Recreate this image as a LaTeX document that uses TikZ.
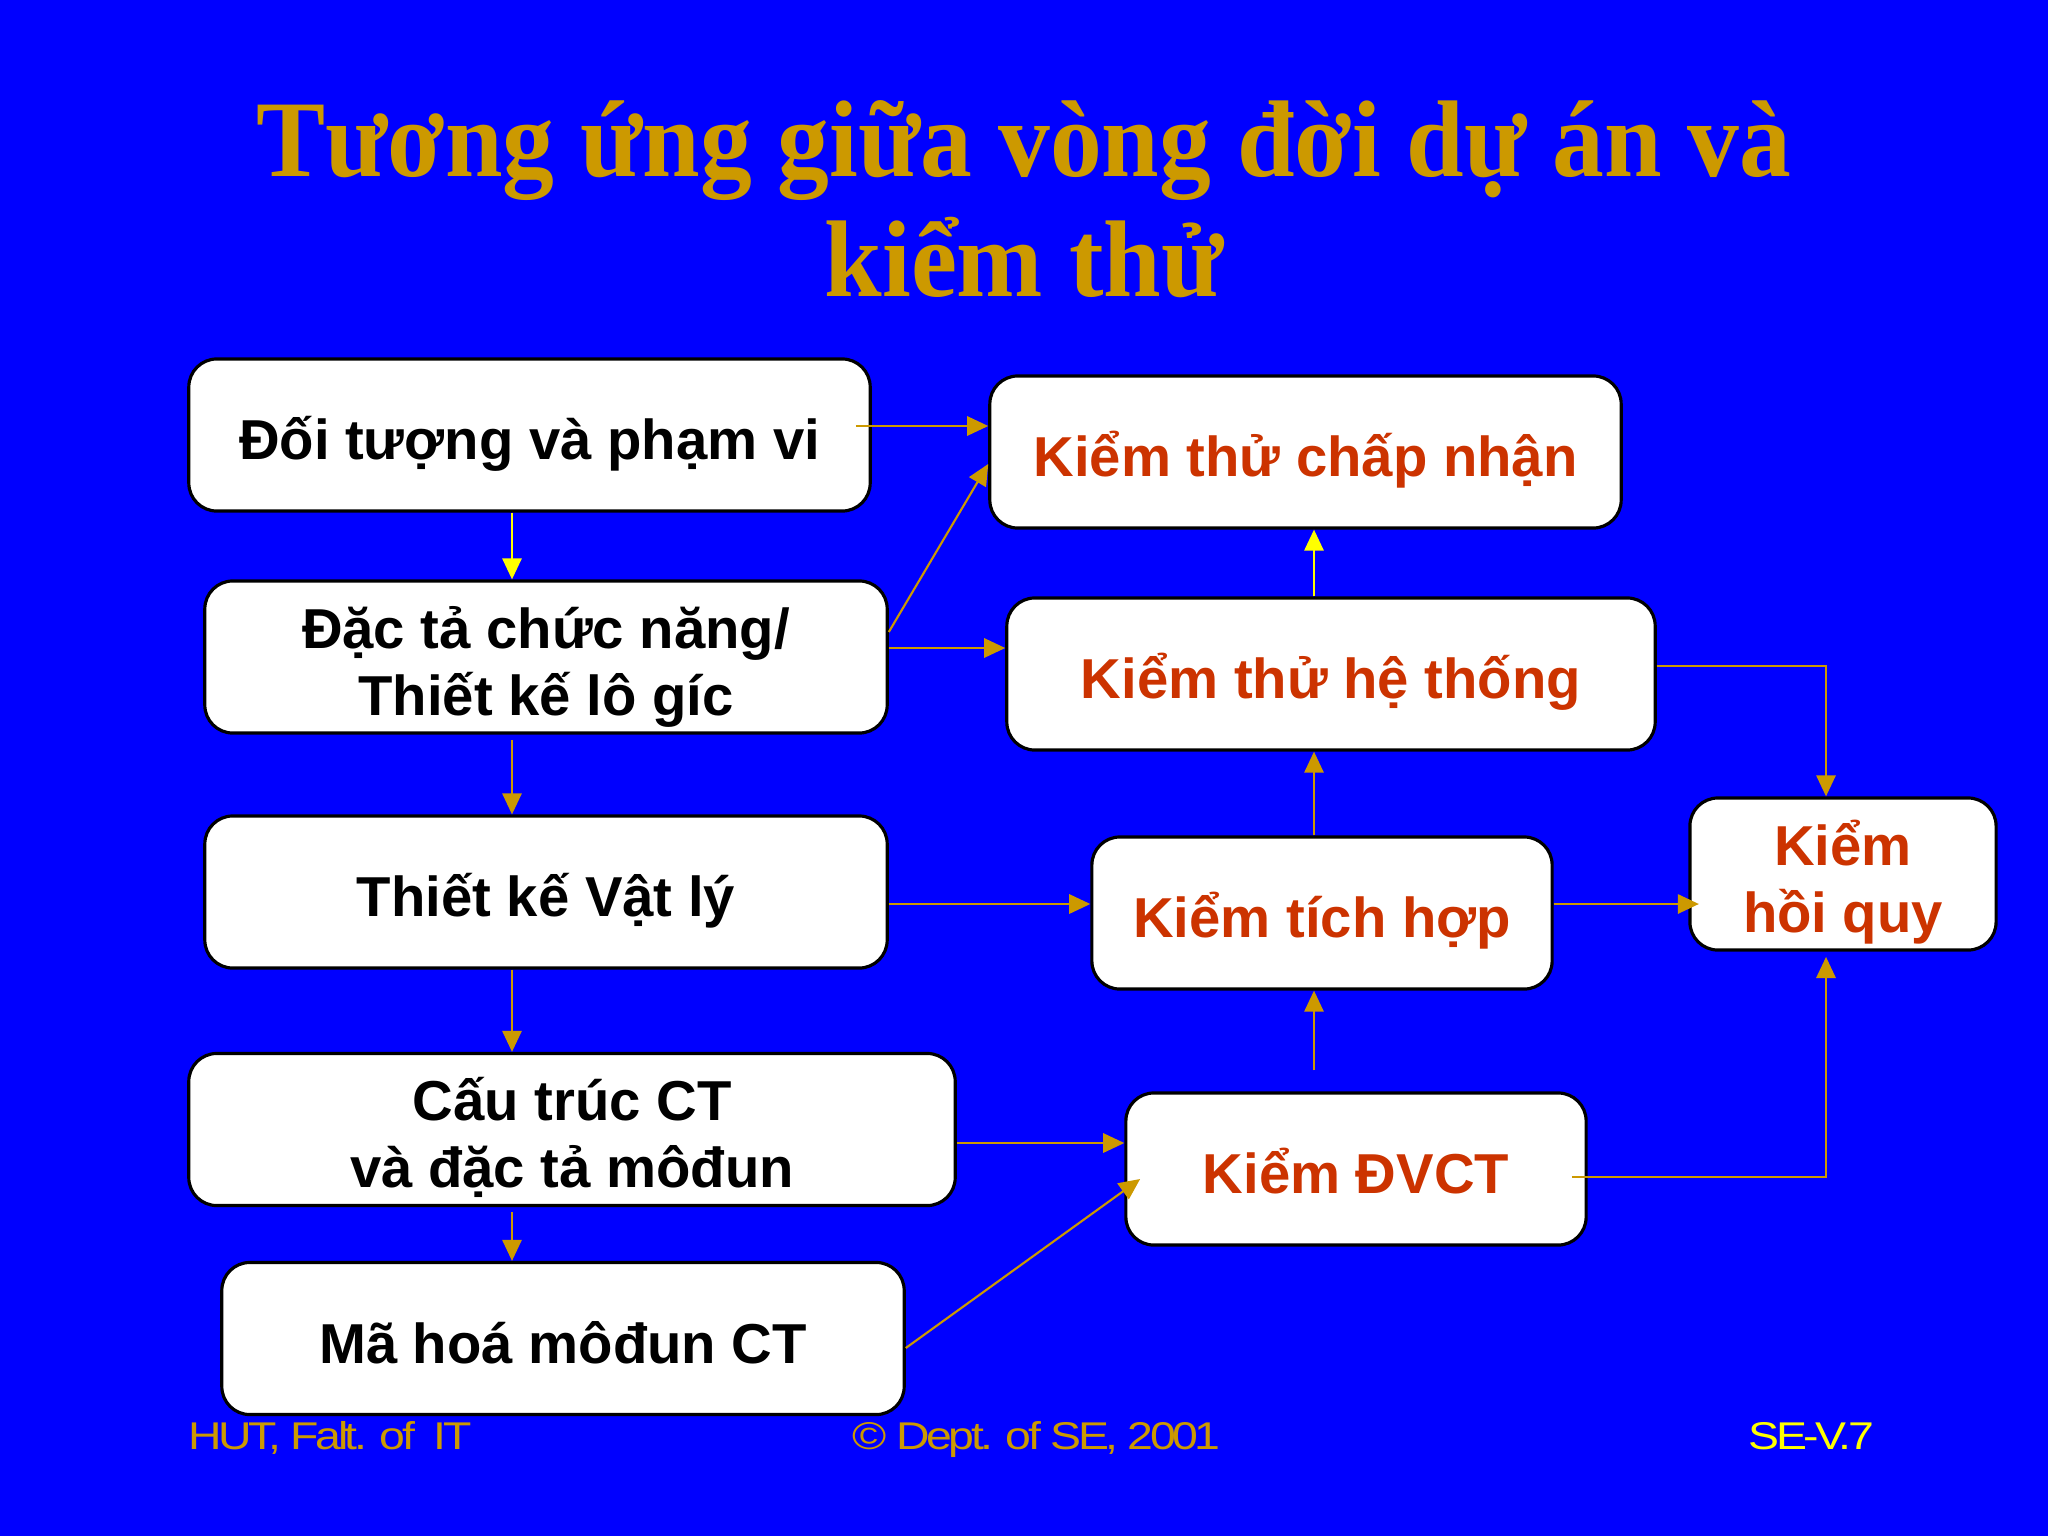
\documentclass[tikz,border=0pt]{standalone}
\usepackage{fontspec}
\setmainfont{Liberation Serif}
\newfontfamily\titlefont[FakeStretch=0.95]{Liberation Serif}
\newfontfamily\boxfont{Liberation Sans}
\newfontfamily\footfont[FakeStretch=1.2,LetterSpace=-9]{Liberation Sans}
\usetikzlibrary{arrows.meta,calc}
\definecolor{bg}{RGB}{0,0,255}
\definecolor{gold}{RGB}{204,153,0}
\definecolor{tred}{RGB}{204,51,0}
\definecolor{yel}{RGB}{255,255,0}
\newcommand\bxtop{\rule{0pt}{19pt}}
\newcommand\bxbot{\rule[-5pt]{0pt}{5pt}}
\begin{document}
\begin{tikzpicture}[x=0.01cm,y=-0.01cm,
  box/.style={draw=black, line width=0.9pt, fill=white, rounded corners=0.28cm,
    align=center, font=\boxfont\bfseries\fontsize{16}{19}\selectfont, inner sep=0pt,
    minimum height=1.52cm},
  lbox/.style={box, text=black},
  rbox/.style={box, text=tred},
  conn/.style={draw=gold, line width=0.6pt, -{Triangle[length=6pt,width=5.5pt]}},
  yconn/.style={conn, draw=yel},
  ttl/.style={text=gold, font=\titlefont\bfseries\fontsize{31}{34}\selectfont, inner sep=0pt, anchor=base},
  foot/.style={font=\footfont\fontsize{11}{13}\selectfont, inner sep=0pt, anchor=base west}
]
\fill[bg] (0,0) rectangle (2048,1536);
\useasboundingbox (0,0) rectangle (2048,1536);

% title
\node[ttl] (t1) at (1024,176) {Tương ứng giữa vòng đời dự án và};
\node[ttl] (t2) at (1024,296) {kiểm thử};

% left column
\node[lbox, minimum width=6.81cm] (b1) at (529.5,435) {\bxtop Đối tượng và phạm vi\bxbot};
\node[lbox, minimum width=6.82cm] (b2) at (546,657) {\bxtop Đặc tả chức năng/\\Thiết kế lô gíc\bxbot};
\node[lbox, minimum width=6.82cm] (b3) at (546,892) {\bxtop Thiết kế Vật lý\bxbot};
\node[lbox, minimum width=7.66cm] (b4) at (572,1129.5) {\bxtop Cấu trúc CT\\và đặc tả môđun\bxbot};
\node[lbox, minimum width=6.82cm] (b5) at (563,1338.5) {\bxtop Mã hoá môđun CT\bxbot};

% right side
\node[rbox, minimum width=6.31cm] (b6) at (1305.5,452) {\bxtop Kiểm thử chấp nhận\bxbot};
\node[rbox, minimum width=6.48cm] (b7) at (1331,674) {\bxtop Kiểm thử hệ thống\bxbot};
\node[rbox, minimum width=4.60cm] (b8) at (1322,913) {\bxtop Kiểm tích hợp\bxbot};
\node[rbox, minimum width=3.06cm] (b9) at (1843,874) {\bxtop Kiểm\\hồi quy\bxbot};
\node[rbox, minimum width=4.60cm] (b10) at (1356,1169) {\bxtop Kiểm ĐVCT\bxbot};

\coordinate (lx) at (512,0);
\coordinate (cx) at (1314,0);
\coordinate (rx) at (1826,0);

% left column arrows
\draw[yconn] (b1.south -| lx) -- (b2.north -| lx);
\draw[conn] ([yshift=-1.5pt]b2.south -| lx) -- (b3.north -| lx);
\draw[conn] (b3.south -| lx) -- (b4.north -| lx);
\draw[conn] ([yshift=-1.5pt]b4.south -| lx) -- (b5.north -| lx);

% cross arrows
\draw[conn] ([xshift=-4.5pt]b1.east |- 0,426) -- (b6.west |- 0,426);
\draw[conn] (b2.east |- 0,632) -- (b6.west |- 0,464);
\draw[conn] (b2.east |- 0,648) -- (b7.west |- 0,648);
\draw[conn] (b3.east |- 0,904) -- (b8.west |- 0,904);
\draw[conn] (b4.east |- 0,1143) -- (b10.west |- 0,1143);
\draw[conn] (b5.east |- 0,1348) -- ([xshift=4.5pt]b10.west |- 0,1179);

% centre column
\draw[conn] ([yshift=6pt]b10.north -| cx) -- (b8.south -| cx);
\draw[conn] (b8.north -| cx) -- (b7.south -| cx);
\draw[yconn] (b7.north -| cx) -- (b6.south -| cx);

% to regression
\draw[conn] (b7.east |- 0,666) -| (b9.north -| rx);
\draw[conn] (b8.east |- 0,904) -- ([xshift=3pt]b9.west |- 0,904);
\draw[conn] ([xshift=-4.5pt]b10.east |- 0,1177) -| ([yshift=-1.5pt]b9.south -| rx);

% footer
\node[foot, text=gold] (f1) at (188,1449) {HUT, Falt. of\ \ IT};
\node[foot, text=gold] (f2) at (852,1449) {© Dept. of SE, 2001};
\node[foot, text=yel] (f3) at (1748,1449) {SE-V.7};
\end{tikzpicture}
\end{document}
